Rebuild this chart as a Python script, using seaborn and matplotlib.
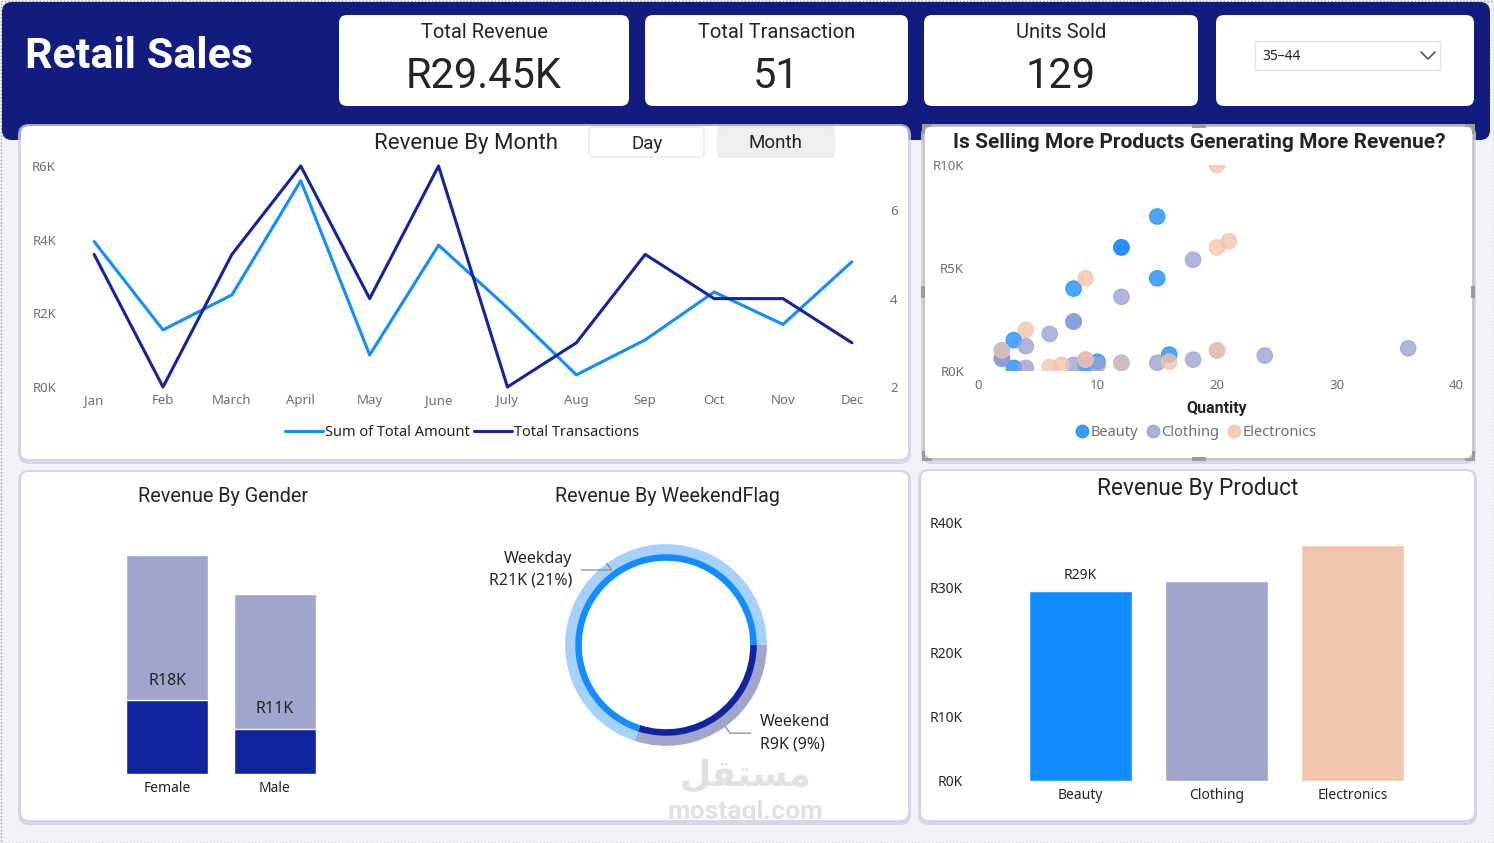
import numpy as np
import pandas as pd
import matplotlib
matplotlib.use("Agg")
import matplotlib.pyplot as plt
import seaborn as sns
from matplotlib.patches import FancyBboxPatch, Rectangle
from matplotlib.lines import Line2D

# ---- data ----
months = ["Jan", "Feb", "March", "April", "May", "June",
          "July", "Aug", "Sep", "Oct", "Nov", "Dec"]
month_revenue = [3950, 1550, 2500, 5600, 870, 3850, 2150, 330, 1280, 2580, 1700, 3400]
month_transactions = [5, 2, 5, 7, 4, 7, 2, 3, 5, 4, 4, 3]

kpi_titles = ["Total Revenue", "Total Transaction", "Units Sold"]
kpi_values = ["R29.45K", "51", "129"]
age_group = "35\u201344"

beauty_qty = [15, 12, 12, 15, 8, 8, 3, 2, 2, 3, 9, 10, 12, 16]
beauty_rev = [7500, 6000, 6000, 4500, 4000, 2400, 1500, 1000, 600, 150, 300, 450, 400, 800]
clothing_qty = [18, 12, 8, 6, 4, 2, 4, 8, 10, 15, 18, 20, 24, 36, 9]
clothing_rev = [5400, 3600, 2400, 1800, 1200, 600, 150, 300, 300, 400, 550, 1000, 750, 1100, 550]
electronics_qty = [20, 20, 21, 9, 4, 2, 6, 7, 9, 12, 16, 20]
electronics_rev = [10000, 6000, 6300, 4500, 2000, 1000, 200, 300, 550, 400, 450, 1000]

genders = ["Female", "Male"]
gender_revenue = [18000, 11000]
gender_other = [35000, 32500]
gender_labels = ["R18K", "R11K"]

weekend_flags = ["Weekend", "Weekday"]
weekend_revenue = [9000, 21000]
weekend_labels = ["R9K (9%)", "R21K (21%)"]

products = ["Beauty", "Clothing", "Electronics"]
product_revenue = [29400, 31000, 36600]

# ---- colours ----
NAVY = "#111C7E"
DARK = "#12239E"
BLUE = "#118DFF"
LAV = "#A1A4CD"
PEACH = "#F2C5AE"
TXT = "#252423"
GREY = "#6E6E6E"

W, H = 1494, 843
sns.set_theme(style="white")
plt.rcParams["font.family"] = ["Noto Sans", "DejaVu Sans"]
TITLE_FONT = ["Roboto", "DejaVu Sans"]

fig = plt.figure(figsize=(W / 100, H / 100), dpi=100)
fig.patch.set_facecolor("#F3F3F7")


def rect(left, top, right, bottom):
    return [left / W, 1 - bottom / H, (right - left) / W, (bottom - top) / H]


# background axes in pixel coords for panels and text
bg = fig.add_axes([0, 0, 1, 1], zorder=0)
bg.set_xlim(0, W)
bg.set_ylim(H, 0)
bg.axis("off")


def panel(l, t, r, b, fc="white", rad=8, shadow=True, ec="none"):
    if shadow:
        bg.add_patch(FancyBboxPatch((l - 3, t - 2), r - l + 6, b - t + 7,
                                    boxstyle=f"round,pad=0,rounding_size={rad + 3}",
                                    fc="#CDCFE2", ec="none", alpha=0.8))
    bg.add_patch(FancyBboxPatch((l, t), r - l, b - t,
                                boxstyle=f"round,pad=0,rounding_size={rad}",
                                fc=fc, ec=ec, lw=1))


def title(x, y, s, size, weight="normal"):
    bg.text(x, y, s, ha="center", va="center", fontsize=size, color=TXT,
            family=TITLE_FONT, fontweight=weight)


# page frame (dotted)
bg.add_patch(Rectangle((0.5, 0.5), W - 1, H - 1, fill=False, ec="#9A9A9A", lw=1, ls=(0, (1, 1.5))))

# header band
panel(2, 2, 1490, 140, fc=NAVY, rad=10, shadow=False)
bg.text(25, 56, "Retail Sales", color="white", fontsize=31, fontweight="bold",
        family=TITLE_FONT, ha="left", va="center")

# kpi cards
cards = [(339, 629), (645, 908), (924, 1198)]
for (l, r), ttl, val in zip(cards, kpi_titles, kpi_values):
    panel(l, 15, r, 106, shadow=False)
    cx = (l + r) / 2
    bg.text(cx, 32, ttl, ha="center", va="center", fontsize=14.5, color=TXT, family=TITLE_FONT)
    bg.text(cx, 76, val, ha="center", va="center", fontsize=30, color=TXT, family=TITLE_FONT)

# slicer card
panel(1216, 15, 1474, 106, shadow=False)
bg.add_patch(Rectangle((1255, 41), 185, 29, fc="white", ec="#E1E1E1", lw=1))
bg.text(1262, 57, age_group, ha="left", va="center", fontsize=10, color=TXT)
bg.plot([1421, 1428, 1435], [52, 59, 52], color="#555555", lw=1.2)

# main panels
panel(21, 126, 908, 459)
panel(924, 126, 1473, 459, ec="#B5B5B5")
panel(21, 472, 908, 820)
panel(921, 471, 1474, 820)
for hx, hy, hw, hh in [(921, 286, 4, 12), (1471, 286, 4, 12), (1192, 124, 14, 4), (1192, 457, 14, 4),
                       (922, 124, 10, 3), (922, 124, 3, 10), (1465, 124, 10, 3), (1472, 124, 3, 10),
                       (922, 458, 10, 3), (922, 451, 3, 10), (1465, 458, 10, 3), (1472, 451, 3, 10)]:
    bg.add_patch(Rectangle((hx, hy), hw, hh, fc="#9C9C9C", ec="none"))

# ---- Revenue by month ----
title(466, 143, "Revenue By Month", 16)
bg.add_patch(FancyBboxPatch((589, 127), 115, 30, boxstyle="round,pad=0,rounding_size=4",
                            fc="white", ec="#E8E8E8", lw=1))
bg.add_patch(FancyBboxPatch((718, 127), 116, 30, boxstyle="round,pad=0,rounding_size=4",
                            fc="#EFEFEF", ec="#E8E8E8", lw=1))
bg.text(647, 144, "Day", ha="center", va="center", fontsize=13.5, color=TXT, family=TITLE_FONT)
bg.text(776, 143, "Month", ha="center", va="center", fontsize=13.5, color=TXT, family=TITLE_FONT)

month_df = pd.DataFrame({"pos": np.arange(len(months)), "month": months,
                         "revenue": month_revenue, "transactions": month_transactions})
ax1 = fig.add_axes(rect(70, 166, 876, 387), zorder=2)
ax1.patch.set_alpha(0)
sns.lineplot(data=month_df, x="pos", y="revenue", ax=ax1, color=BLUE, lw=2.2, clip_on=False)
ax2 = ax1.twinx()
sns.lineplot(data=month_df, x="pos", y="transactions", ax=ax2, color=DARK, lw=2.2, clip_on=False)
ax1.set_xlim(-0.35, 11.35)
ax1.set_ylim(0, 6000)
ax2.set_ylim(2, 7)
ax1.set_xticks(month_df["pos"], months)
ax1.set_yticks([0, 2000, 4000, 6000], ["R0K", "R2K", "R4K", "R6K"])
ax2.set_yticks([2, 4, 6])
for a in (ax1, ax2):
    a.set_xlabel("")
    a.set_ylabel("")
    sns.despine(ax=a, left=True, bottom=True, right=True)
    a.tick_params(length=0, labelsize=9.5, labelcolor=GREY)
ax1.tick_params(axis="y", pad=10)
ax1.tick_params(axis="x", pad=5)
ax2.tick_params(axis="y", pad=10)
handles = [Line2D([], [], color=BLUE, lw=2.2), Line2D([], [], color=DARK, lw=2.2)]
fig.legend(handles, ["Sum of Total Amount", "Total Transactions"], loc="center",
           bbox_to_anchor=(462 / W, 1 - 433 / H), ncol=2, frameon=False, fontsize=10.5,
           handlelength=2.6, handletextpad=0.15, columnspacing=0.3, labelcolor=TXT)

# ---- scatter ----
title(1199, 142, "Is Selling More Products Generating More Revenue?", 15, "bold")
scatter_df = pd.concat([
    pd.DataFrame({"qty": beauty_qty, "rev": beauty_rev, "cat": "Beauty"}),
    pd.DataFrame({"qty": clothing_qty, "rev": clothing_rev, "cat": "Clothing"}),
    pd.DataFrame({"qty": electronics_qty, "rev": electronics_rev, "cat": "Electronics"}),
], ignore_index=True)
sc_pal = {"Beauty": "#1A8CFF", "Clothing": "#9AA1D0", "Electronics": "#F4C3AA"}
ax3 = fig.add_axes(rect(978, 165, 1456, 371), zorder=2)
ax3.patch.set_alpha(0)
sns.scatterplot(data=scatter_df, x="qty", y="rev", hue="cat", palette=sc_pal, ax=ax3,
                s=125, alpha=0.78, linewidth=0.8, edgecolor=None, legend=False)
ax3.set_xlim(0, 40)
ax3.set_ylim(0, 10000)
ax3.set_xticks([0, 10, 20, 30, 40])
ax3.set_yticks([0, 5000, 10000], ["R0K", "R5K", "R10K"])
sns.despine(ax=ax3, left=True, bottom=True)
ax3.tick_params(length=0, labelsize=9.5, labelcolor=GREY)
ax3.tick_params(axis="y", pad=10)
ax3.tick_params(axis="x", pad=6)
ax3.set_ylabel("")
ax3.set_xlabel("Quantity", fontsize=11.5, color=TXT, family=TITLE_FONT, fontweight="bold", labelpad=6)
sc_handles = [Line2D([], [], marker="o", ls="", ms=9, mfc=c, mec=c, alpha=0.85) for c in sc_pal.values()]
fig.legend(sc_handles, list(sc_pal.keys()), loc="center", bbox_to_anchor=(1195 / W, 1 - 433 / H),
           ncol=3, frameon=False, fontsize=10.5, handletextpad=0.0, columnspacing=0.4,
           labelcolor=GREY, handlelength=1.2)

# ---- gender ----
title(223, 497, "Revenue By Gender", 14.3)
gender_df = pd.DataFrame({"gender": genders, "revenue": gender_revenue, "other": gender_other})
gender_df["total"] = gender_df["revenue"] + gender_df["other"]
ax4 = fig.add_axes(rect(80, 520, 400, 774), zorder=2)
ax4.patch.set_alpha(0)
sns.barplot(data=gender_df, x="gender", y="total", color=LAV, saturation=1, width=0.76, ax=ax4)
sns.barplot(data=gender_df, x="gender", y="revenue", color=DARK, saturation=1, width=0.76, ax=ax4)
for i, (v, lab) in enumerate(zip(gender_revenue, gender_labels)):
    ax4.annotate(lab, (i, v), xytext=(0, 8), textcoords="offset points", ha="center", va="bottom",
                 fontsize=11.5, color=TXT)
ax4.set_ylim(0, 61500)
ax4.set_xlim(-0.81, 2.16)
ax4.set_yticks([])
ax4.set_xlabel("")
ax4.set_ylabel("")
sns.despine(ax=ax4, left=True, bottom=True)
ax4.tick_params(length=0, labelsize=10, labelcolor=TXT, pad=5)

# ---- weekend donut ----
title(667, 497, "Revenue By WeekendFlag", 14.2)
ax5 = fig.add_axes(rect(545, 524, 787, 766), zorder=2)
ax5.patch.set_alpha(0)
outer, _ = ax5.pie(weekend_revenue, colors=[LAV, "#A6D1FA"], startangle=0, counterclock=False,
                   radius=1.0, wedgeprops=dict(width=0.11, lw=0))
ax5.pie(weekend_revenue, colors=[DARK, BLUE], startangle=0, counterclock=False,
        radius=0.90, wedgeprops=dict(width=0.065, lw=0))
ax5.set_xlim(-1.2, 1.2)
ax5.set_ylim(-1.2, 1.2)
ax5.set_aspect("equal")
ax5.axis("off")
for w, flag, lab in zip(outer, weekend_flags, weekend_labels):
    ang = np.deg2rad((w.theta1 + w.theta2) / 2)
    cx, cy = np.cos(ang), np.sin(ang)
    side = np.sign(cx)
    tx = side * (abs(cx) + 0.34)
    ty = cy * 1.0 - 0.065
    ax5.annotate(f"{flag}\n{lab}", xy=(cx, cy), xytext=(tx, ty), ha="right" if side < 0 else "left",
                 va="center", fontsize=11.5, color=TXT, linespacing=1.5, annotation_clip=False,
                 arrowprops=dict(arrowstyle="-", color="#8A8A8A", lw=0.9, shrinkA=4, shrinkB=0,
                                 connectionstyle=f"angle,angleA=0,angleB={np.rad2deg(ang):.1f},rad=0"))

# watermark
bg.text(746, 812, "mostaql.com", ha="center", va="center", fontsize=19, fontweight="bold",
        color="#DADADA", alpha=0.8, family=TITLE_FONT, zorder=5)
bg.text(746, 775, "\uFEDE\uFED8\uFE98\uFEB4\uFEE3", ha="center", va="center", fontsize=26,
        fontweight="bold", color="#DADADA", alpha=0.8, family=["DejaVu Sans"], zorder=5)

# ---- product ----
title(1198, 489, "Revenue By Product", 16.3)
product_df = pd.DataFrame({"product": products, "revenue": product_revenue})
ax6 = fig.add_axes(rect(985, 523, 1460, 781), zorder=2)
ax6.patch.set_alpha(0)
sns.barplot(data=product_df, x="product", y="revenue", hue="product",
            palette=[BLUE, LAV, PEACH], saturation=1, width=0.76, legend=False, ax=ax6)
ax6.set_ylim(0, 40000)
ax6.set_xlim(-0.70, 2.79)
ax6.set_yticks([0, 10000, 20000, 30000, 40000], ["R0K", "R10K", "R20K", "R30K", "R40K"])
ax6.set_xlabel("")
ax6.set_ylabel("")
sns.despine(ax=ax6, left=True, bottom=True)
ax6.tick_params(length=0, labelsize=10, labelcolor=TXT)
ax6.tick_params(axis="y", pad=16)
ax6.tick_params(axis="x", pad=5)
ax6.annotate(f"R{product_revenue[0] // 1000}K", (0, product_revenue[0]), xytext=(0, 6),
             textcoords="offset points", ha="center", va="bottom", fontsize=10, color=TXT)

fig.savefig("out.png", dpi=100, facecolor=fig.get_facecolor())
